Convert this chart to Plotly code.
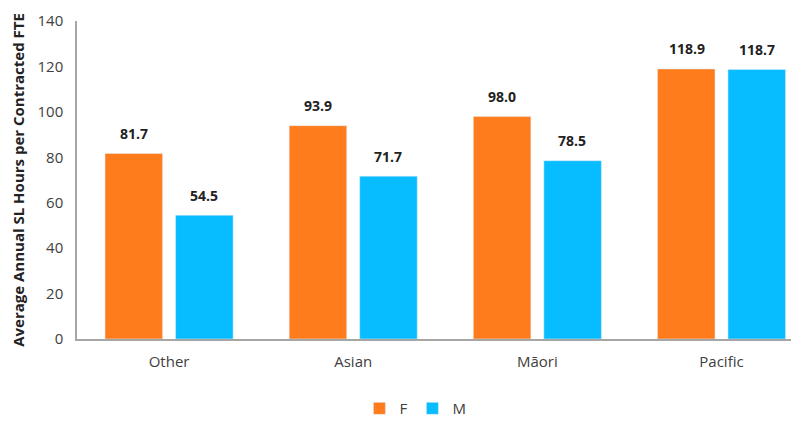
import plotly.graph_objects as go

# ---- Datos ----
grupos = ["Other", "Asian", "Māori", "Pacific"]
valores_f = [81.7, 93.9, 98.0, 118.9]
valores_m = [54.5, 71.7, 78.5, 118.7]

color_f = "#FF7C1C"
color_m = "#08BDFF"
fuente = "Open Sans"

fig = go.Figure()
fig.add_trace(go.Bar(x=grupos, y=valores_f, name="F", marker=dict(color=color_f)))
fig.add_trace(go.Bar(x=grupos, y=valores_m, name="M", marker=dict(color=color_m)))

# etiquetas de valores encima de cada barra
for serie, vals in enumerate([valores_f, valores_m]):
    for g, v in zip(grupos, vals):
        fig.add_annotation(
            x=g, y=v, text=f"{v:.1f}", showarrow=False,
            xshift=-35 if serie == 0 else 35, yshift=20,
            font=dict(family=fuente, size=14, color="#222222", weight="bold"),
        )

# la pagina tiene 8px de margen en el body -> compensar
fig.update_layout(
    width=791, height=413,
    margin=dict(l=69, r=2, t=9, b=82),
    plot_bgcolor="white", paper_bgcolor="white",
    barmode="group", bargap=0.234, bargroupgap=0.184,
    font=dict(family=fuente, size=15, color="#404040"),
    showlegend=True,
    legend=dict(orientation="h", x=0.47, xanchor="center", yref="container", y=0.03,
                yanchor="middle", font=dict(size=15), itemwidth=30, traceorder="normal"),
    xaxis=dict(range=[-0.5, 3.41], showline=True, linecolor="#A6A6A6", linewidth=1.5,
               ticks="", showgrid=False, ticklabelstandoff=8),
    yaxis=dict(range=[0, 140], dtick=20, showline=True, linecolor="#A6A6A6", linewidth=1.5,
               showgrid=False, zeroline=False, ticks="", ticklabelstandoff=9,
               ticklabeloverflow="allow",
               title=dict(text="<b>Average Annual SL Hours per Contracted FTE</b>",
                          font=dict(size=15, color="#222222"), standoff=10)),
)

fig.write_html("out.html")
